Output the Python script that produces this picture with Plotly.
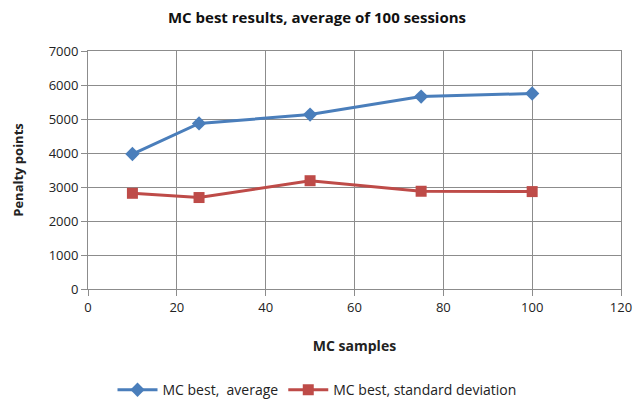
import plotly.graph_objects as go

samples = [10, 25, 50, 75, 100]
avg_vals = [3970, 4870, 5130, 5660, 5750]
std_vals = [2815, 2690, 3185, 2875, 2865]

x_ticks = [0, 20, 40, 60, 80, 100, 120]
y_ticks = [0, 1000, 2000, 3000, 4000, 5000, 6000, 7000]

BLUE = "#4A7EBB"
RED = "#BE4B48"
GRID = "#8C8C8C"
FONT = "Open Sans, Liberation Sans, sans-serif"

fig = go.Figure()
fig.add_trace(go.Scatter(
    x=samples, y=avg_vals, mode="lines+markers", name="MC best,  average",
    line=dict(color=BLUE, width=3),
    marker=dict(symbol="diamond", size=11, color=BLUE),
))
fig.add_trace(go.Scatter(
    x=samples, y=std_vals, mode="lines+markers", name="MC best, standard deviation",
    line=dict(color=RED, width=3),
    marker=dict(symbol="square", size=11, color=RED),
))

fig.update_layout(
    width=634, height=401,
    margin=dict(l=88, r=13, t=51, b=112),
    paper_bgcolor="white", plot_bgcolor="white",
    font=dict(family=FONT, size=13, color="#222222"),
    title=dict(text="<b>MC best results, average of 100 sessions</b>",
               x=0.5, xanchor="center", y=0.955, yanchor="middle",
               font=dict(size=15, color="#111111")),
    xaxis=dict(
        range=[0, 120], tickvals=x_ticks, showgrid=True, gridcolor=GRID, gridwidth=1,
        showline=True, linecolor=GRID, linewidth=1, mirror=True,
        ticks="outside", tickcolor=GRID, ticklen=6, zeroline=False, automargin=False,
        title=dict(text="<b>MC samples</b>", font=dict(size=14), standoff=26),
    ),
    yaxis=dict(
        range=[0, 7000], tickvals=y_ticks, showgrid=True, gridcolor=GRID, gridwidth=1,
        showline=True, linecolor=GRID, linewidth=1, mirror=True,
        ticks="outside", tickcolor=GRID, ticklen=6, zeroline=False, automargin=False,
        title=dict(text="<b>Penalty points</b>", font=dict(size=13), standoff=22),
    ),
    legend=dict(orientation="h", x=0.5, xanchor="center", xref="container",
                y=0.027, yanchor="middle", yref="container",
                font=dict(size=14), itemwidth=40, traceorder="normal"),
    showlegend=True,
)

fig.write_html("out.html")
